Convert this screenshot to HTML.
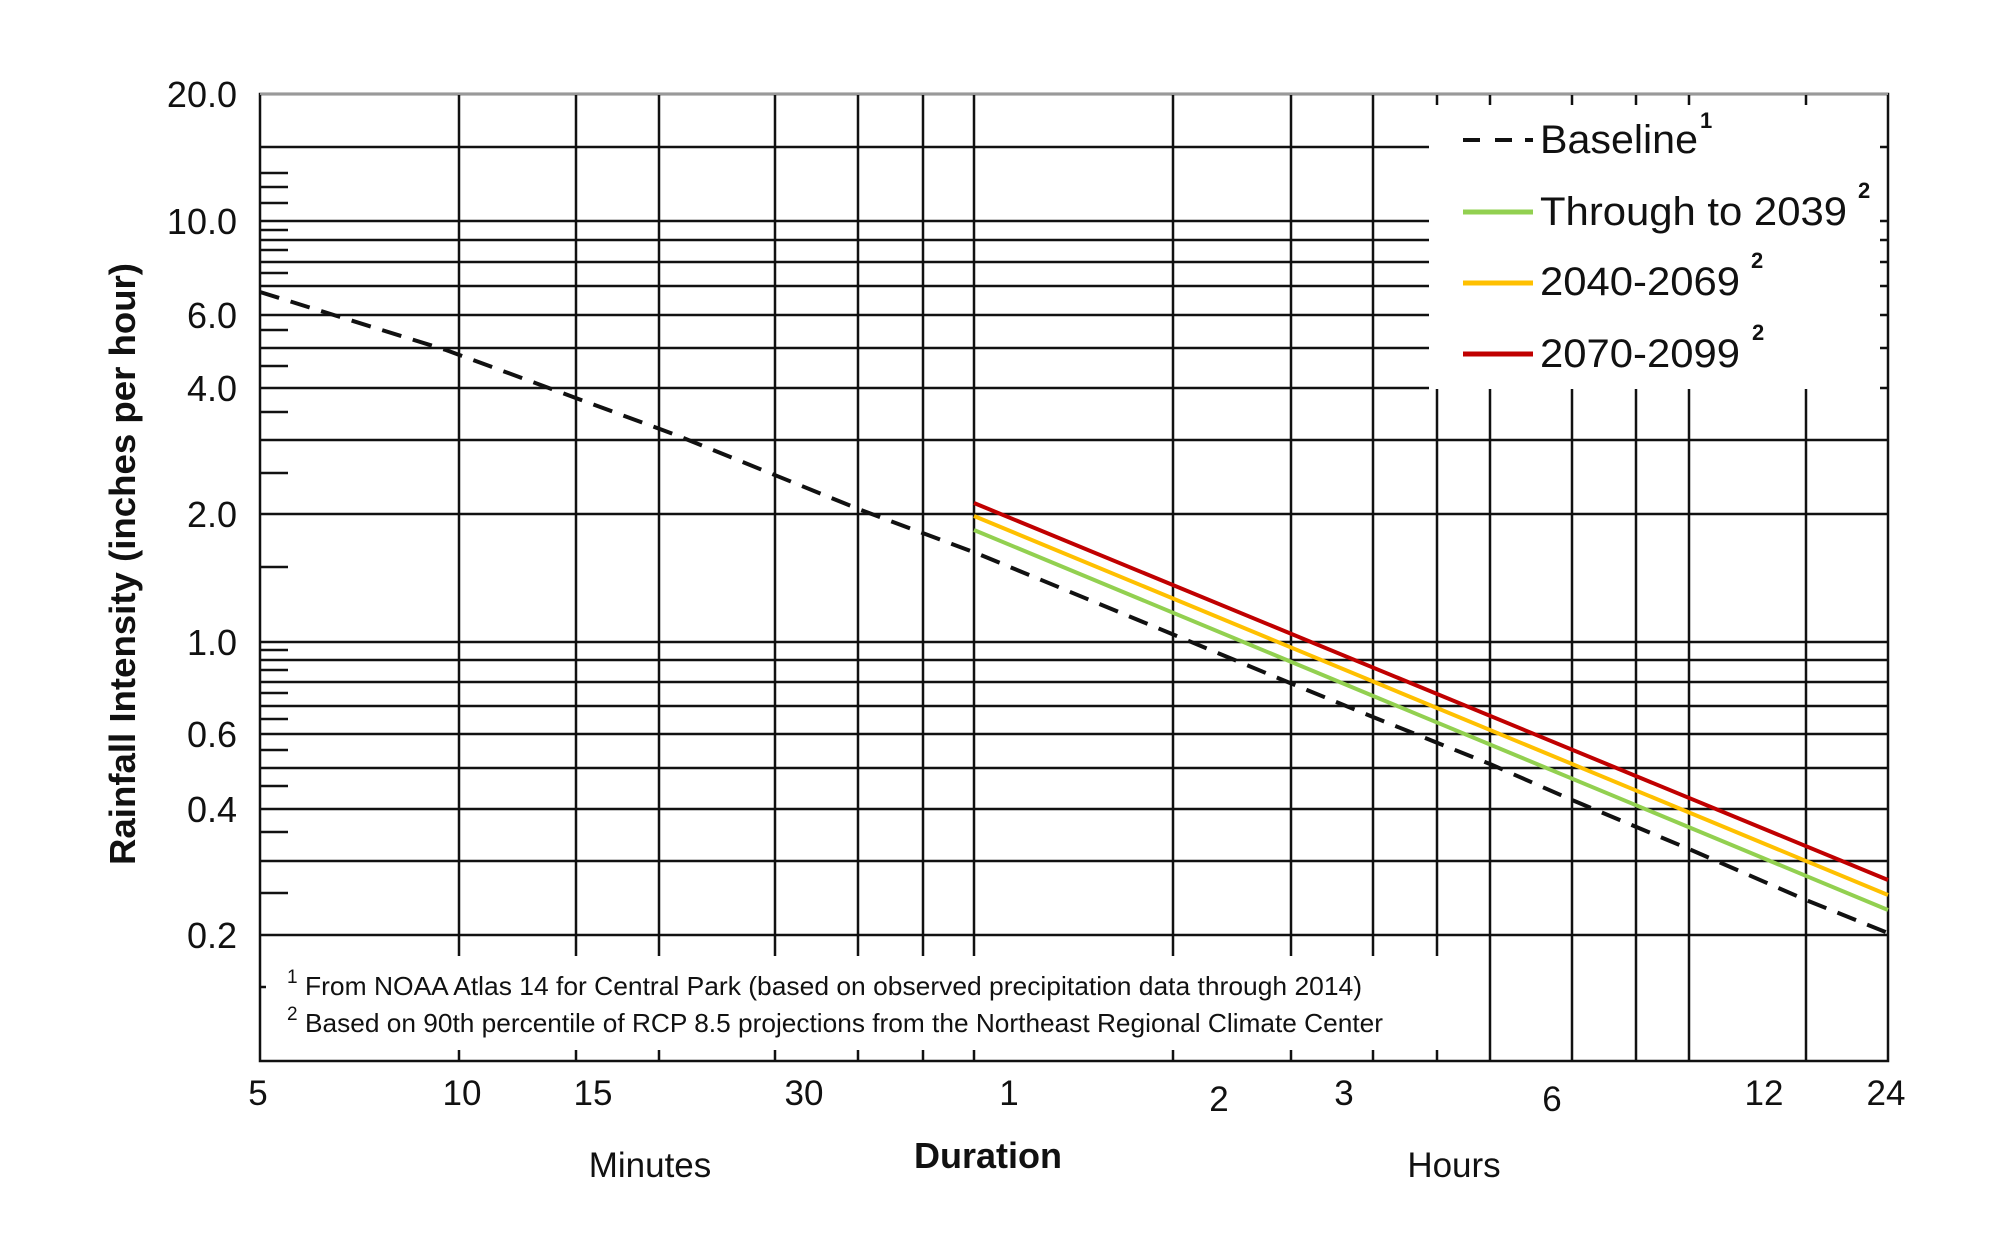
<!DOCTYPE html>
<html><head><meta charset="utf-8"><style>
html,body{margin:0;padding:0;background:#fff;}
svg{display:block;}
text{font-family:"Liberation Sans",Arial,sans-serif;fill:#111;}
</style></head><body>
<svg width="2000" height="1238" viewBox="0 0 2000 1238" xmlns="http://www.w3.org/2000/svg">
<rect width="2000" height="1238" fill="#fff"/>
<g stroke="#111" stroke-width="2.5" fill="none">
<path d="M260 147H1429M260 221H1429M260 240H1429M260 262H1429M260 286H1429M260 315H1429M260 348H1429M260 388H1429"/>
<path d="M260 440H1888M260 514H1888M260 642H1888M260 660H1888M260 682H1888M260 706H1888M260 734H1888M260 768H1888M260 809H1888M260 861H1888M260 935H1888"/>
<path d="M1880 147H1888M1880 221H1888M1880 240H1888M1880 262H1888M1880 286H1888M1880 315H1888M1880 348H1888M1880 388H1888"/>
<path d="M459 94V956M576 94V956M659 94V956M775 94V956M858 94V956M923 94V956M974 94V956M1173 94V956M1291 94V956M1373 94V956"/>
<path d="M459 1050V1061M576 1050V1061M659 1050V1061M775 1050V1061M858 1050V1061M923 1050V1061M974 1050V1061M1173 1050V1061M1291 1050V1061M1373 1050V1061"/>
<path d="M1437 94V105M1490 94V105M1572 94V105M1636 94V105M1689 94V105M1806 94V105"/>
<path d="M1437 389V956M1437 1050V1061M1490 389V1061M1572 389V1061M1636 389V1061M1689 389V1061M1806 389V1061"/>
<path d="M260 173H288M260 187H288M260 203H288M260 230H288M260 250H288M260 273H288M260 330H288M260 366H288M260 412H288M260 473H288M260 567H288M260 650H288M260 670H288M260 693H288M260 719H288M260 750H288M260 786H288M260 832H288M260 893H288M260 987H266"/>
</g>
<path d="M260 94H1888V1061H260Z" stroke="#111" stroke-width="2.5" fill="none"/>
<path d="M260 94H1888" stroke="#999" stroke-width="2"/>
<polyline fill="none" stroke="#111" stroke-width="4" stroke-dasharray="20,12" points="260,292 446,350 676,435 861,510 976,553 1172,634 1290,683 1373,717 1490,764 1572,800 1689,849 1806,900 1888,933"/>
<line x1="974" y1="503" x2="1888" y2="880" stroke="#c00000" stroke-width="4"/>
<line x1="974" y1="516" x2="1888" y2="895" stroke="#ffc000" stroke-width="4"/>
<line x1="974" y1="530" x2="1888" y2="910" stroke="#92d050" stroke-width="4"/>
<path d="M1463 140H1480M1495 140H1512M1525 140H1533" stroke="#111" stroke-width="4"/>
<path d="M1463 212H1533" stroke="#92d050" stroke-width="5"/>
<path d="M1463 283H1533" stroke="#ffc000" stroke-width="5"/>
<path d="M1463 354H1533" stroke="#c00000" stroke-width="5"/>
<g font-size="40">
<text x="1540" y="153" textLength="158" lengthAdjust="spacingAndGlyphs">Baseline</text>
<text x="1540" y="225" textLength="307" lengthAdjust="spacingAndGlyphs">Through to 2039</text>
<text x="1540" y="295" textLength="200" lengthAdjust="spacingAndGlyphs">2040-2069</text>
<text x="1540" y="367" textLength="200" lengthAdjust="spacingAndGlyphs">2070-2099</text>
</g>
<g font-size="22" font-weight="bold">
<text x="1700" y="128">1</text>
<text x="1858" y="198">2</text>
<text x="1751" y="268">2</text>
<text x="1752" y="340">2</text>
</g>
<g font-size="36" text-anchor="end">
<text x="237" y="107">20.0</text>
<text x="237" y="234">10.0</text>
<text x="237" y="328">6.0</text>
<text x="237" y="401">4.0</text>
<text x="237" y="527">2.0</text>
<text x="237" y="655">1.0</text>
<text x="237" y="747">0.6</text>
<text x="237" y="822">0.4</text>
<text x="237" y="948">0.2</text>
</g>
<text transform="translate(135,564) rotate(-90)" text-anchor="middle" font-size="36" font-weight="bold" textLength="602" lengthAdjust="spacingAndGlyphs">Rainfall Intensity (inches per hour)</text>
<g font-size="35" text-anchor="middle">
<text x="258" y="1105">5</text>
<text x="462" y="1105">10</text>
<text x="593" y="1105">15</text>
<text x="804" y="1105">30</text>
<text x="1009" y="1105">1</text>
<text x="1219" y="1111">2</text>
<text x="1344" y="1105">3</text>
<text x="1552" y="1111">6</text>
<text x="1764" y="1105">12</text>
<text x="1886" y="1105">24</text>
</g>
<text x="650" y="1177" text-anchor="middle" font-size="35">Minutes</text>
<text x="988" y="1168" text-anchor="middle" font-size="36" font-weight="bold">Duration</text>
<text x="1454" y="1177" text-anchor="middle" font-size="35">Hours</text>
<text x="287" y="983" font-size="19">1</text>
<text x="305" y="995" font-size="26" textLength="1057" lengthAdjust="spacingAndGlyphs">From NOAA Atlas 14 for Central Park (based on observed precipitation data through 2014)</text>
<text x="287" y="1020" font-size="19">2</text>
<text x="305" y="1032" font-size="26" textLength="1078" lengthAdjust="spacingAndGlyphs">Based on 90th percentile of RCP 8.5 projections from the Northeast Regional Climate Center</text>
</svg>
</body></html>
